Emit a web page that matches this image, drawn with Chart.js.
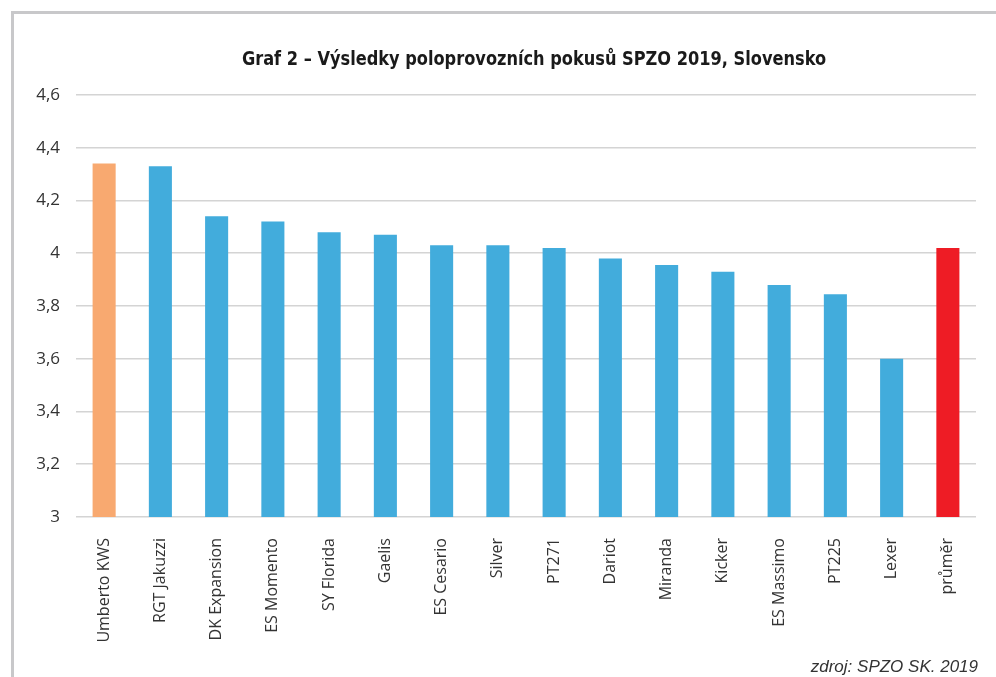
<!DOCTYPE html>
<html>
<head>
<meta charset="utf-8">
<script src="https://cdn.jsdelivr.net/npm/chart.js@4"></script>
<style>
    body { margin: 0; background: #fff; }
    #wrap { position: relative; width: 996px; height: 677px; overflow: hidden; }
    #frame {
        position: absolute; left: 11px; top: 11px; right: -10px; bottom: -10px;
        border-left: 3px solid #c8c8ca; border-top: 3px solid #c8c8ca;
    }
    #title {
        position: absolute; left: 184px; width: 700px; top: 48px; text-align: center;
        font: bold 20px "DejaVu Sans Condensed", sans-serif; line-height: 20px; color: #1a1a1a;
        white-space: nowrap; transform: scaleX(0.9); transform-origin: center;
    }
    #source {
        position: absolute; right: 18px; top: 657px;
        font: italic 17px "Liberation Sans", Arial, sans-serif; color: #333;
    }
</style>
</head>
<body>
<div id="wrap">
    <div id="frame"></div>
    <canvas id="chart" width="996" height="677"></canvas>
    <div id="title">Graf 2 – Výsledky poloprovozních pokusů SPZO 2019, Slovensko</div>
    <div id="source">zdroj: SPZO SK. 2019</div>
</div>
<script>
// Chart data
const categories = ['Umberto KWS', 'RGT Jakuzzi', 'DK Expansion', 'ES Momento', 'SY Florida', 'Gaelis',
    'ES Cesario', 'Silver', 'PT271', 'Dariot', 'Miranda', 'Kicker', 'ES Massimo', 'PT225', 'Lexer', 'průměr'];
const yields = [4.34, 4.33, 4.14, 4.12, 4.08, 4.07, 4.03, 4.03, 4.02, 3.98, 3.955, 3.93, 3.88, 3.845, 3.6, 4.02];
const yTicks = [3, 3.2, 3.4, 3.6, 3.8, 4, 4.2, 4.4, 4.6];

const barColors = categories.map((c, i) => {
    if (i === 0) return '#f8a970';
    if (c === 'průměr') return '#ee1c25';
    return '#42acdc';
});

const ctx = document.getElementById('chart').getContext('2d');
new Chart(ctx, {
    type: 'bar',
    data: {
        labels: categories,
        datasets: [{
            data: yields,
            backgroundColor: barColors,
            barPercentage: 0.41,
            categoryPercentage: 1,
        }]
    },
    options: {
        responsive: false,
        animation: false,
        layout: { padding: { top: 95, right: 20, bottom: 0, left: 0 } },
        plugins: {
            legend: { display: false },
            tooltip: { enabled: false },
            title: { display: false }
        },
        scales: {
            x: {
                grid: { display: false },
                border: { display: false },
                ticks: {
                    minRotation: 90,
                    maxRotation: 90,
                    autoSkip: false,
                    padding: 13,
                    color: '#333',
                    font: { family: '"Open Sans", sans-serif', size: 16 }
                },
                afterFit: scale => { scale.height = 160; }
            },
            y: {
                min: 3,
                max: 4.6,
                afterBuildTicks: scale => { scale.ticks = yTicks.map(v => ({ value: v })); },
                grid: { color: '#d4d4d4', lineWidth: 1.6, drawTicks: false },
                border: { display: false },
                ticks: {
                    padding: 16,
                    color: '#333',
                    font: { family: '"Open Sans", sans-serif', size: 17 },
                    callback: v => String(Math.round(v * 10) / 10).replace('.', ',')
                },
                afterFit: scale => { scale.width = 76; }
            }
        }
    }
});
</script>
</body>
</html>
